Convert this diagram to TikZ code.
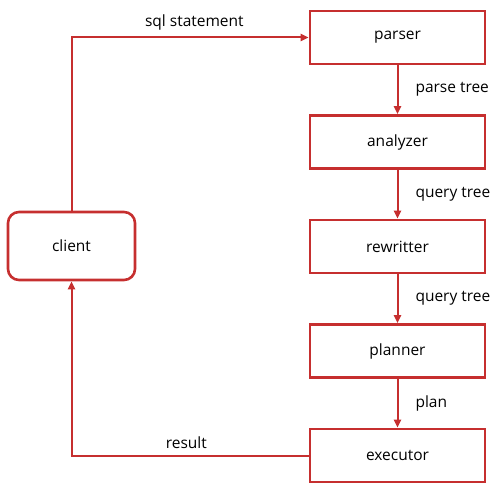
\documentclass[tikz,border=0pt]{standalone}
\usepackage{fontspec}
\setmainfont{Open Sans}
\usetikzlibrary{arrows.meta}
\definecolor{boxred}{HTML}{C62F2F}
\begin{document}
\begin{tikzpicture}[x=1pt,y=-1pt,
  stage/.style={draw=boxred,line width=2.6pt,minimum width=175pt,minimum height=53pt,inner sep=0pt,font=\fontsize{15.5}{18}\selectfont},
  clientbox/.style={draw=boxred,line width=2.6pt,rounded corners=11pt,minimum width=127pt,minimum height=68pt,inner sep=0pt,font=\fontsize{15.5}{18}\selectfont},
  flow/.style={draw=boxred,line width=2pt,-{Triangle[length=8pt,width=7pt]}},
  lbl/.style={font=\fontsize{15.5}{18}\selectfont,inner sep=0pt}]
\useasboundingbox (0,0) rectangle (504,495);
\node[stage] (parser) at (397.5,37.5) {parser};
\node[stage] (analyzer) at (397.5,142) {analyzer};
\node[stage] (rewritter) at (397.5,246.5) {rewritter};
\node[stage] (planner) at (397.5,351) {planner};
\node[stage] (executor) at (397.5,455.5) {executor};
\node[clientbox] (client) at (71.5,246) {client};
\draw[flow] (client.north) |- (parser.west) node[lbl,pos=0.759,above=6pt] {sql statement};
\draw[flow] (executor.west) -| (client.south) node[lbl,pos=0.258,above=6pt] {result};
\draw[flow] (parser) -- (analyzer) node[lbl,midway,right=17pt] {parse tree};
\draw[flow] (analyzer) -- (rewritter) node[lbl,midway,right=17pt] {query tree};
\draw[flow] (rewritter) -- (planner) node[lbl,midway,right=17pt] {query tree};
\draw[flow] (planner) -- (executor) node[lbl,midway,right=17pt] {plan};
\end{tikzpicture}
\end{document}
